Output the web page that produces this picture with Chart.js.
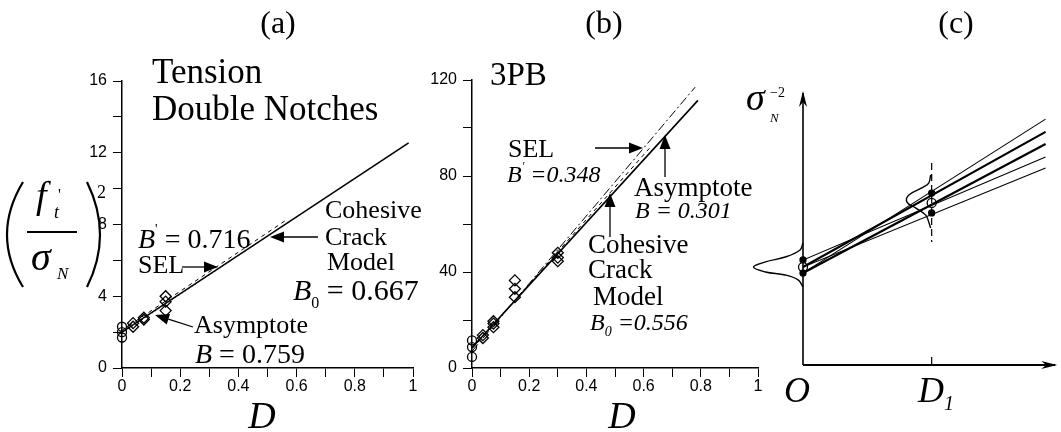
<!DOCTYPE html>
<html>
<head>
<meta charset="utf-8">
<script src="https://cdn.jsdelivr.net/npm/chart.js@4.4.1/dist/chart.umd.min.js"></script>
<style>
  html, body { margin: 0; padding: 0; background: #fff; }
  #wrap { position: relative; width: 1061px; height: 432px; }
  #wrap canvas { position: absolute; left: 0; top: 0; }
</style>
</head>
<body>
<div id="wrap">
  <canvas id="chartA" width="1061" height="432"></canvas>
  <canvas id="chartB" width="1061" height="432"></canvas>
  <canvas id="chartC" width="1061" height="432"></canvas>
</div>
<script>
// ---- (a) tension, double notches ----
var dA_circles = [0, 0, 0];
var yA_circles = [1.7, 2.0, 2.3];
var dA_diamonds = [0.038, 0.038, 0.075, 0.075, 0.15, 0.15, 0.15];
var yA_diamonds = [2.3, 2.5, 2.7, 2.8, 3.2, 3.7, 4.0];
var dA_cohesive = [0, 0.985];
var yA_cohesive = [2.0, 12.55];
var dA_sel = [0, 0.56];
var yA_sel = [2.1, 8.2];
var dA_asym = [0, 0.5];
var yA_asym = [1.95, 7.35];
var ticksA_x = [0, 0.2, 0.4, 0.6, 0.8, 1];
var ticksA_y = [0, 4, 8, 12, 16];

// ---- (b) 3PB ----
var dB_circles = [0, 0, 0];
var yB_circles = [4.6, 8.7, 11.5];
var dB_diamonds = [0.038, 0.038, 0.075, 0.075, 0.075, 0.15, 0.15, 0.15, 0.3, 0.3, 0.3];
var yB_diamonds = [12.5, 13.7, 17, 18.5, 19.5, 29.5, 33, 36.5, 44.5, 46, 48];
var dB_cohesive = [0, 0.79];
var yB_cohesive = [8.5, 111.5];
var dB_sel = [0, 0.78];
var yB_sel = [7, 117];
var dB_asym = [0, 0.62];
var yB_asym = [8, 91.5];
var ticksB_x = [0, 0.2, 0.4, 0.6, 0.8, 1];
var ticksB_y = [0, 40, 80, 120];

// ---- (c) schematic ----
var dC_end = 1.885;
var yC_start = [3.38, 3.60, 3.38, 3.86, 3.60];
var yC_end = [9.04, 8.57, 8.125, 7.65, 7.24];
var wC = [1, 2, 2, 1, 1];
var yC_pts0 = [3.86, 3.60, 3.38];
var yC_pts1 = [6.32, 5.96, 5.59];
var bell0_x = [0, -0.023, -0.138, -0.292, -0.385, -0.292, -0.138, -0.038, 0];
var bell0_y = [4.49, 4.23, 3.97, 3.79, 3.60, 3.42, 3.31, 3.13, 2.87];
var bell1_x = [0.992, 0.977, 0.923, 0.823, 0.808, 0.877, 0.954, 0.977, 0.992];
var bell1_y = [6.99, 6.69, 6.51, 6.25, 5.99, 5.77, 5.51, 5.26, 5.04];
var dashC_y = [7.43, 4.52];

var SERIF = '"Liberation Serif", "DejaVu Serif", serif';
var SANS = '"Liberation Sans", Arial, sans-serif';
Chart.defaults.color = '#000';
Chart.defaults.font.family = SANS;

function pts(xs, ys) {
  return xs.map(function (x, i) { return { x: x, y: ys[i] }; });
}

function lineSet(xs, ys, w, dash) {
  return { data: pts(xs, ys), showLine: true, pointRadius: 0, borderColor: '#000',
           borderWidth: w, borderDash: dash || [], fill: false };
}

function markSet(xs, ys, style, r) {
  return { data: pts(xs, ys), showLine: false, pointStyle: style, pointRadius: r,
           borderColor: '#000', backgroundColor: 'rgba(0,0,0,0)', pointBorderWidth: 1.3, clip: false };
}

function axis(min, max, step, labels, pad, fit) {
  return {
    type: 'linear', min: min, max: max,
    ticks: {
      stepSize: step, autoSkip: false, padding: pad, font: { size: 16, family: SANS }, color: '#000',
      callback: function (v) {
        for (var i = 0; i < labels.length; i++) {
          if (Math.abs(labels[i] - v) < 1e-6) return String(labels[i]);
        }
        return '';
      }
    },
    grid: { drawOnChartArea: false, drawTicks: true, tickLength: 9, color: '#000', lineWidth: 1 },
    border: { display: true, color: '#000', width: 1.5 },
    afterFit: fit
  };
}

function rich(ctx, x, y, parts) {
  parts.forEach(function (p) {
    ctx.font = p[1];
    ctx.fillText(p[0], x, y + (p[2] || 0));
    x += ctx.measureText(p[0]).width;
  });
}

function arrow(ctx, x1, y1, x2, y2) {
  var a = Math.atan2(y2 - y1, x2 - x1), L = 14, W = 5.5;
  ctx.lineWidth = 1.3;
  ctx.beginPath();
  ctx.moveTo(x1, y1);
  ctx.lineTo(x2 - L * Math.cos(a), y2 - L * Math.sin(a));
  ctx.stroke();
  ctx.beginPath();
  ctx.moveTo(x2, y2);
  ctx.lineTo(x2 - L * Math.cos(a) + W * Math.sin(a), y2 - L * Math.sin(a) - W * Math.cos(a));
  ctx.lineTo(x2 - L * Math.cos(a) - W * Math.sin(a), y2 - L * Math.sin(a) + W * Math.cos(a));
  ctx.closePath();
  ctx.fill();
}

function txt(ctx, s, x, y, font, align) {
  ctx.font = font;
  ctx.textAlign = align || 'left';
  ctx.fillText(s, x, y);
  ctx.textAlign = 'left';
}

function baseOpts(padding, xAxis, yAxis) {
  return {
    responsive: false, animation: false, events: [],
    layout: { padding: padding },
    plugins: { legend: { display: false }, tooltip: { enabled: false } },
    scales: { x: xAxis, y: yAxis }
  };
}

// ---------- panel (a) ----------
var decoA = {
  id: 'decoA',
  afterDraw: function (chart) {
    var ctx = chart.ctx;
    ctx.save();
    ctx.fillStyle = '#000'; ctx.strokeStyle = '#000';
    ctx.textBaseline = 'alphabetic';
    txt(ctx, '(a)', 278, 33, '32px ' + SERIF, 'center');
    txt(ctx, 'Tension', 152, 83, '35px ' + SERIF);
    txt(ctx, 'Double Notches', 152, 120, '35px ' + SERIF);
    rich(ctx, 138, 248, [['B', 'italic 28px ' + SERIF], ['\'', '14px ' + SERIF, -14], [' = 0.716', '28px ' + SERIF]]);
    txt(ctx, 'SEL', 138, 273, '26px ' + SERIF);
    txt(ctx, 'Cohesive', 325, 218, '26px ' + SERIF);
    txt(ctx, 'Crack', 325, 245, '26px ' + SERIF);
    txt(ctx, 'Model', 327, 270, '26px ' + SERIF);
    rich(ctx, 293, 300, [['B', 'italic 30px ' + SERIF], ['0', '16px ' + SERIF, 8], [' = 0.667', '30px ' + SERIF]]);
    txt(ctx, 'Asymptote', 194, 333, '26px ' + SERIF);
    rich(ctx, 195, 363, [['B', 'italic 28px ' + SERIF], [' = 0.759', '28px ' + SERIF]]);
    txt(ctx, 'D', 262, 428, 'italic 38px ' + SERIF, 'center');
    arrow(ctx, 182, 267, 218, 267);
    arrow(ctx, 318, 237, 270, 237);
    arrow(ctx, 193, 327, 155, 315);
    // y label (f't / sigma_N)^2
    ctx.lineWidth = 2.2;
    ctx.beginPath(); ctx.moveTo(23, 182); ctx.quadraticCurveTo(-9, 235, 23, 287); ctx.stroke();
    ctx.beginPath(); ctx.moveTo(87, 182); ctx.quadraticCurveTo(113, 235, 87, 287); ctx.stroke();
    txt(ctx, 'f', 36, 208, 'italic 38px ' + SERIF);
    txt(ctx, '\'', 58, 200, '16px ' + SERIF);
    txt(ctx, 't', 54, 218, 'italic 18px ' + SERIF);
    ctx.lineWidth = 2;
    ctx.beginPath(); ctx.moveTo(27, 232); ctx.lineTo(77, 232); ctx.stroke();
    txt(ctx, 'σ', 31, 270, 'italic 40px ' + SERIF);
    txt(ctx, 'N', 57, 279, 'italic 17px ' + SERIF);
    txt(ctx, '2', 97, 198, '18px ' + SERIF);
    ctx.restore();
  }
};

new Chart(document.getElementById('chartA'), {
  type: 'scatter',
  data: {
    datasets: [
      markSet(dA_circles, yA_circles, 'circle', 4.5),
      markSet(dA_diamonds, yA_diamonds, 'rectRot', 5.5),
      lineSet(dA_cohesive, yA_cohesive, 1.6),
      lineSet(dA_sel, yA_sel, 1, [4, 4]),
      lineSet(dA_asym, yA_asym, 1, [1, 3])
    ]
  },
  options: baseOpts({ left: 0, top: 81, right: 1061 - 413, bottom: 0 },
    axis(0, 1, 0.1, ticksA_x, 0, function (s) { s.height = 64; }),
    axis(0, 16, 2, ticksA_y, 6, function (s) { s.width = 122; })),
  plugins: [decoA]
});

// ---------- panel (b) ----------
var decoB = {
  id: 'decoB',
  afterDraw: function (chart) {
    var ctx = chart.ctx;
    ctx.save();
    ctx.fillStyle = '#000'; ctx.strokeStyle = '#000';
    txt(ctx, '(b)', 604, 33, '32px ' + SERIF, 'center');
    txt(ctx, '3PB', 490, 85, '33px ' + SERIF);
    txt(ctx, 'SEL', 508, 157, '26px ' + SERIF);
    rich(ctx, 507, 182, [['B', 'italic 24px ' + SERIF], ['\'', 'italic 12px ' + SERIF, -12], [' =0.348', 'italic 24px ' + SERIF]]);
    txt(ctx, 'Asymptote', 634, 196, '27px ' + SERIF);
    rich(ctx, 635, 218, [['B', 'italic 24px ' + SERIF], [' = 0.301', 'italic 24px ' + SERIF]]);
    txt(ctx, 'Cohesive', 588, 253, '27px ' + SERIF);
    txt(ctx, 'Crack', 588, 278, '27px ' + SERIF);
    txt(ctx, 'Model', 593, 305, '27px ' + SERIF);
    rich(ctx, 590, 330, [['B', 'italic 24px ' + SERIF], ['0', 'italic 14px ' + SERIF, 6], [' =0.556', 'italic 24px ' + SERIF]]);
    txt(ctx, 'D', 622, 428, 'italic 38px ' + SERIF, 'center');
    arrow(ctx, 595, 148, 643, 148);
    arrow(ctx, 665, 177, 665, 135);
    arrow(ctx, 610, 237, 610, 193);
    ctx.restore();
  }
};

new Chart(document.getElementById('chartB'), {
  type: 'scatter',
  data: {
    datasets: [
      markSet(dB_circles, yB_circles, 'circle', 4.5),
      markSet(dB_diamonds, yB_diamonds, 'rectRot', 5.5),
      lineSet(dB_cohesive, yB_cohesive, 1.6),
      lineSet(dB_sel, yB_sel, 1, [9, 3, 2, 3]),
      lineSet(dB_asym, yB_asym, 1, [4, 4])
    ]
  },
  options: baseOpts({ left: 0, top: 80, right: 1061 - 758, bottom: 0 },
    axis(0, 1, 0.1, ticksB_x, 0, function (s) { s.height = 64; }),
    axis(0, 120, 20, ticksB_y, 6, function (s) { s.width = 472; })),
  plugins: [decoB]
});

// ---------- panel (c) ----------
var cSets = [];
yC_start.forEach(function (y0, i) {
  cSets.push(lineSet([0, dC_end], [y0, yC_end[i]], wC[i] * 1.1));
});
cSets.push(Object.assign(lineSet(bell0_x, bell0_y, 1.4), { tension: 0.4, clip: false }));
cSets.push(Object.assign(lineSet(bell1_x, bell1_y, 1.4), { tension: 0.4, clip: false }));
cSets.push(lineSet([1, 1], dashC_y, 1.2, [7, 4]));
cSets.push({ data: pts([0, 0, 0], yC_pts0), showLine: false, pointStyle: 'circle',
  pointRadius: [3, 4.5, 3], borderColor: '#000', pointBorderWidth: 1.3,
  backgroundColor: ['#000', '#fff', '#000'], clip: false });
cSets.push({ data: pts([1, 1, 1], yC_pts1), showLine: false, pointStyle: 'circle',
  pointRadius: [3, 4.5, 3], borderColor: '#000', pointBorderWidth: 1.3,
  backgroundColor: ['#000', '#fff', '#000'], clip: false });

var decoC = {
  id: 'decoC',
  afterDraw: function (chart) {
    var ctx = chart.ctx, sx = chart.scales.x, sy = chart.scales.y;
    var x0 = sx.getPixelForValue(0), y0 = sy.getPixelForValue(0);
    var xTop = sy.getPixelForValue(10), xEnd = sx.getPixelForValue(1.96), xD1 = sx.getPixelForValue(1);
    ctx.save();
    ctx.fillStyle = '#000'; ctx.strokeStyle = '#000';
    ctx.lineWidth = 1.6;
    ctx.beginPath(); ctx.moveTo(x0, y0); ctx.lineTo(x0, xTop); ctx.stroke();
    ctx.lineWidth = 2;
    ctx.beginPath(); ctx.moveTo(x0, y0); ctx.lineTo(xEnd, y0); ctx.stroke();
    // arrowheads
    ctx.beginPath(); ctx.moveTo(x0, xTop - 2); ctx.lineTo(x0 - 4, xTop + 14); ctx.lineTo(x0, xTop + 9); ctx.lineTo(x0 + 4, xTop + 14); ctx.closePath(); ctx.fill();
    ctx.beginPath(); ctx.moveTo(xEnd + 2, y0); ctx.lineTo(xEnd - 14, y0 - 4); ctx.lineTo(xEnd - 9, y0); ctx.lineTo(xEnd - 14, y0 + 4); ctx.closePath(); ctx.fill();
    ctx.lineWidth = 1.2;
    ctx.beginPath(); ctx.moveTo(xD1, y0); ctx.lineTo(xD1, y0 - 8); ctx.stroke();
    txt(ctx, '(c)', 956, 33, '32px ' + SERIF, 'center');
    txt(ctx, 'σ', 746, 110, 'italic 38px ' + SERIF);
    txt(ctx, '−2', 770, 97, '14px ' + SERIF);
    txt(ctx, 'N', 770, 122, 'italic 13px ' + SERIF);
    txt(ctx, 'O', 797, 402, 'italic 36px ' + SERIF, 'center');
    rich(ctx, 918, 402, [['D', 'italic 36px ' + SERIF], ['1', 'italic 20px ' + SERIF, 8]]);
    ctx.restore();
  }
};

new Chart(document.getElementById('chartC'), {
  type: 'scatter',
  data: { datasets: cSets },
  options: baseOpts({ left: 803, top: 93, right: 1061 - 1058, bottom: 432 - 365 },
    { type: 'linear', min: 0, max: 1.96, display: false },
    { type: 'linear', min: 0, max: 10, display: false }),
  plugins: [decoC]
});
</script>
</body>
</html>
